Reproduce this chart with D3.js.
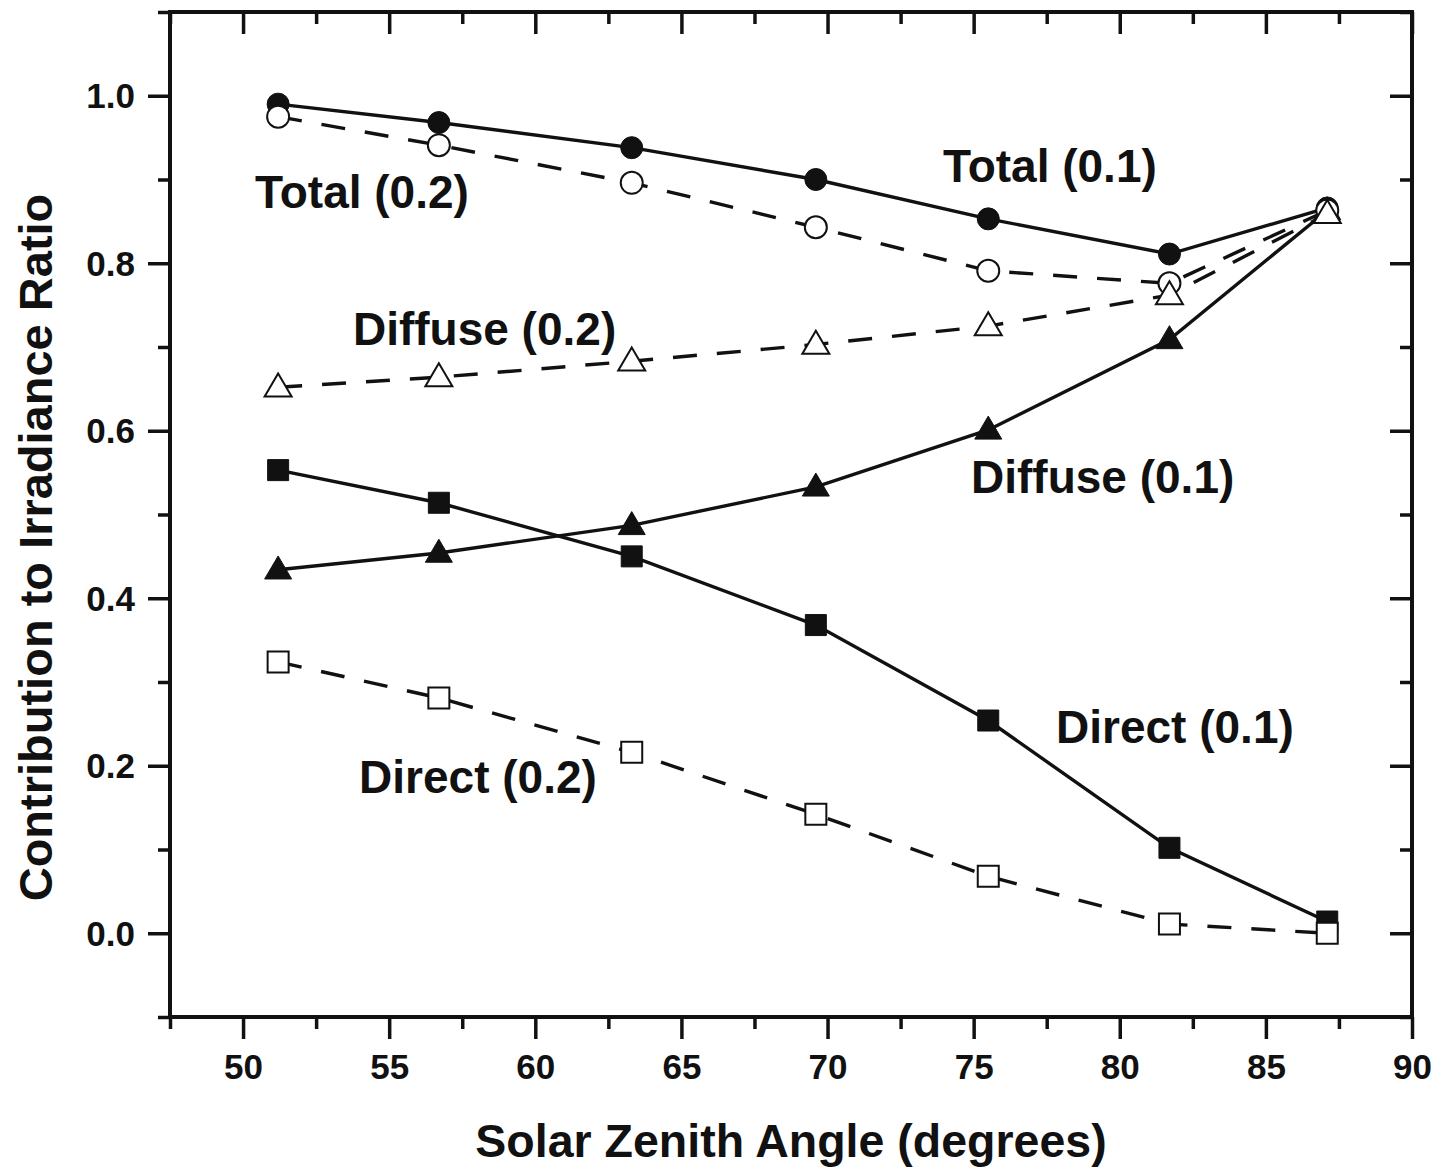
<!DOCTYPE html>
<html>
<head>
<meta charset="utf-8">
<script src="https://cdn.jsdelivr.net/npm/d3@7"></script>
<style>
  html, body { margin: 0; padding: 0; background: #fff; }
  svg { display: block; }
  text { font-family: "Liberation Sans", Arial, sans-serif; font-weight: bold; fill: #111; }
</style>
</head>
<body>
<svg id="chart" width="1441" height="1172"></svg>
<script>
// Solar zenith angles (degrees) at which the irradiance ratios were computed
const angles = [51.2, 56.7, 63.3, 69.6, 75.5, 81.7, 87.1];

// Contribution to irradiance ratio, optical depth 0.1 (solid) and 0.2 (dashed)
const total01   = [0.990, 0.968, 0.938, 0.900, 0.853, 0.811, 0.866];
const diffuse01 = [0.434, 0.454, 0.487, 0.533, 0.601, 0.709, 0.863];
const direct01  = [0.553, 0.514, 0.450, 0.368, 0.254, 0.102, 0.014];
const total02   = [0.975, 0.941, 0.896, 0.843, 0.791, 0.776, 0.863];
const diffuse02 = [0.652, 0.664, 0.683, 0.703, 0.725, 0.762, 0.859];
const direct02  = [0.324, 0.281, 0.216, 0.142, 0.068, 0.011, 0.000];

// Axis ticks
const xMajorTicks = [50, 55, 60, 65, 70, 75, 80, 85, 90];
const xMinorTicks = [47.5, 52.5, 57.5, 62.5, 67.5, 72.5, 77.5, 82.5, 87.5];
const yMajorTicks = [0.0, 0.2, 0.4, 0.6, 0.8, 1.0];
const yMinorTicks = [-0.1, 0.1, 0.3, 0.5, 0.7, 0.9, 1.1];

const xTitle = "Solar Zenith Angle (degrees)";
const yTitle = "Contribution to Irradiance Ratio";

// Series: name, values, marker shape, filled?, dashed?
const series = [
  { name: "Total (0.1)",   values: total01,   shape: "circle",   filled: true,  dashed: false },
  { name: "Diffuse (0.1)", values: diffuse01, shape: "triangle", filled: true,  dashed: false },
  { name: "Direct (0.1)",  values: direct01,  shape: "square",   filled: true,  dashed: false },
  { name: "Total (0.2)",   values: total02,   shape: "circle",   filled: false, dashed: true },
  { name: "Diffuse (0.2)", values: diffuse02, shape: "triangle", filled: false, dashed: true },
  { name: "Direct (0.2)",  values: direct02,  shape: "square",   filled: false, dashed: true }
];

// In-plot curve labels, anchored in data coordinates (left edge, baseline)
const curveLabels = [
  { text: "Total (0.1)",   x: 73.95, y: 0.897 },
  { text: "Total (0.2)",   x: 50.41, y: 0.866 },
  { text: "Diffuse (0.2)", x: 53.76, y: 0.702 },
  { text: "Diffuse (0.1)", x: 74.91, y: 0.526 },
  { text: "Direct (0.1)",  x: 77.82, y: 0.227 },
  { text: "Direct (0.2)",  x: 53.97, y: 0.167 }
];

const svg = d3.select("#chart");
const plot = { left: 170, right: 1412, top: 12, bottom: 1017 };

const x = d3.scaleLinear().domain([47.5, 90]).range([plot.left, plot.right]);
const y = d3.scaleLinear().domain([-0.1, 1.1]).range([plot.bottom, plot.top]);

const AXIS_W = 4, TICK_W = 3.5, MAJOR = 22, MINOR = 12;

function styleAxis(g) {
  g.select(".domain").remove();
  g.selectAll(".tick line").attr("stroke", "#111").attr("stroke-width", TICK_W);
  g.selectAll(".tick text").attr("fill", "#111");
}

// Bottom axis: outward ticks with labels
svg.append("g")
  .attr("transform", `translate(0,${plot.bottom})`)
  .call(d3.axisBottom(x).tickValues(xMajorTicks).tickSize(MAJOR).tickPadding(0).tickFormat(d3.format("d")))
  .call(styleAxis)
  .call(g => g.selectAll(".tick text")
    .attr("y", 0).attr("dy", 0)
    .attr("transform", "translate(0,62)")
    .style("font-size", "35px"));
svg.append("g")
  .attr("transform", `translate(0,${plot.bottom})`)
  .call(d3.axisBottom(x).tickValues(xMinorTicks).tickSize(MINOR).tickFormat(""))
  .call(styleAxis);

// Top axis: inward ticks, no labels
svg.append("g")
  .attr("transform", `translate(0,${plot.top})`)
  .call(d3.axisTop(x).tickValues(xMajorTicks).tickSize(-MAJOR).tickFormat(""))
  .call(styleAxis);
svg.append("g")
  .attr("transform", `translate(0,${plot.top})`)
  .call(d3.axisTop(x).tickValues(xMinorTicks).tickSize(-MINOR).tickFormat(""))
  .call(styleAxis);

// Left axis: outward ticks with labels
svg.append("g")
  .attr("transform", `translate(${plot.left},0)`)
  .call(d3.axisLeft(y).tickValues(yMajorTicks).tickSize(MAJOR).tickPadding(13).tickFormat(d3.format(".1f")))
  .call(styleAxis)
  .call(g => g.selectAll(".tick text")
    .attr("dy", "0.34em")
    .style("font-size", "35px"));
svg.append("g")
  .attr("transform", `translate(${plot.left},0)`)
  .call(d3.axisLeft(y).tickValues(yMinorTicks).tickSize(MINOR).tickFormat(""))
  .call(styleAxis);

// Right axis: inward ticks, no labels
svg.append("g")
  .attr("transform", `translate(${plot.right},0)`)
  .call(d3.axisRight(y).tickValues(yMajorTicks).tickSize(-MAJOR).tickFormat(""))
  .call(styleAxis);
svg.append("g")
  .attr("transform", `translate(${plot.right},0)`)
  .call(d3.axisRight(y).tickValues(yMinorTicks).tickSize(-MINOR).tickFormat(""))
  .call(styleAxis);

// Frame
svg.append("rect")
  .attr("x", plot.left).attr("y", plot.top)
  .attr("width", plot.right - plot.left).attr("height", plot.bottom - plot.top)
  .attr("fill", "none").attr("stroke", "#111").attr("stroke-width", AXIS_W);

// Axis titles
svg.append("text")
  .attr("x", 791)
  .attr("y", 1157)
  .attr("text-anchor", "middle")
  .style("font-size", "46.5px")
  .text(xTitle);

svg.append("text")
  .attr("transform", `translate(52,${(plot.top + plot.bottom) / 2 + 33}) rotate(-90)`)
  .attr("text-anchor", "middle")
  .style("font-size", "47px")
  .text(yTitle);

// Marker path generators
const triW = 27, triH = 23;
function markerPath(shape) {
  if (shape === "triangle") {
    return `M0,${-triH * 0.6}L${triW / 2},${triH * 0.4}L${-triW / 2},${triH * 0.4}Z`;
  }
  if (shape === "square") {
    const h = 10.5;
    return `M${-h},${-h}H${h}V${h}H${-h}Z`;
  }
  const r = 11;
  return `M${r},0A${r},${r} 0 1,1 ${-r},0A${r},${r} 0 1,1 ${r},0Z`;
}

const line = d3.line()
  .x(d => x(d[0]))
  .y(d => y(d[1]));

const layer = svg.append("g");
series.forEach(s => {
  const pts = angles.map((a, i) => [a, s.values[i]]);
  const g = layer.append("g").attr("class", "series");
  g.append("path")
    .datum(pts)
    .attr("d", line)
    .attr("fill", "none")
    .attr("stroke", "#111")
    .attr("stroke-width", 3.4)
    .attr("stroke-dasharray", s.dashed ? "24,20" : null);
  g.selectAll("path.marker")
    .data(pts)
    .join("path")
    .attr("class", "marker")
    .attr("transform", d => `translate(${x(d[0])},${y(d[1])})`)
    .attr("d", markerPath(s.shape))
    .attr("fill", s.filled ? "#111" : "#fff")
    .attr("stroke", "#111")
    .attr("stroke-width", s.filled ? 1 : 2);
});

// Curve labels
svg.append("g")
  .selectAll("text")
  .data(curveLabels)
  .join("text")
  .attr("x", d => x(d.x))
  .attr("y", d => y(d.y))
  .style("font-size", "46px")
  .text(d => d.text);
</script>
</body>
</html>
